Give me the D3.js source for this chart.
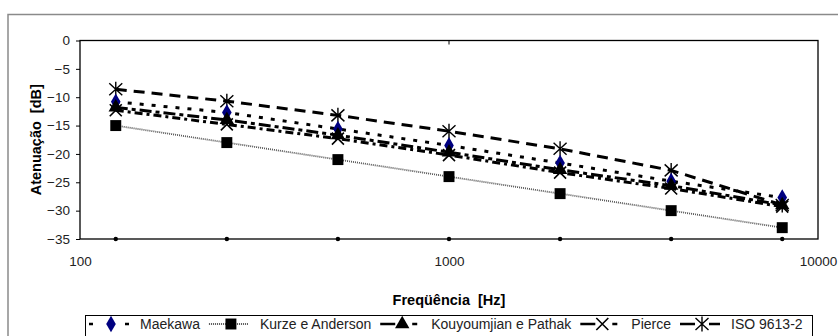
<!DOCTYPE html>
<html>
<head>
<meta charset="utf-8">
<script src="https://cdn.jsdelivr.net/npm/d3@7"></script>
<style>
  body { margin: 0; background: #fff; }
  text { font-family: "Liberation Sans", Arial, sans-serif; }
</style>
</head>
<body>
<svg id="chart"></svg>
<script>
// frequencies (Hz) and attenuation (dB)
const freqs = [125, 250, 500, 1000, 2000, 4000, 8000];
const maekawa = [-10.8, -12.7, -15.6, -18.5, -21.6, -24.8, -27.7];
const kurze = [-15, -18, -21, -24, -27, -30, -33];
const kouyoumjian = [-11.8, -14.0, -16.7, -19.7, -22.8, -25.6, -29.0];
const pierce = [-12.3, -14.8, -17.3, -20.2, -23.3, -26.1, -29.3];
const iso = [-8.6, -10.7, -13.2, -16.0, -19.1, -22.9, -29.0];
const baseline = [-35, -35, -35, -35, -35, -35, -35];
const yTicks = [0, -5, -10, -15, -20, -25, -30, -35];
const xTicks = [100, 1000, 10000];
const seriesNames = ['Maekawa', 'Kurze e Anderson', 'Kouyoumjian e Pathak', 'Pierce', 'ISO 9613-2'];

const W = 838, H = 336;
const m = { left: 80, right: 20, top: 40.5, bottom: 97 };

const svg = d3.select('#chart')
	.attr('width', W)
	.attr('height', H);

const x = d3.scaleLog()
	.domain([100, 10000])
	.range([m.left, W - m.right]);
const y = d3.scaleLinear()
	.domain([-35, 0])
	.range([H - m.bottom, m.top]);

// outer chart area frame
svg.append('rect')
	.attr('x', 8).attr('y', 14.5)
	.attr('width', W).attr('height', H)
	.attr('fill', 'none').attr('stroke', '#8a8a8a').attr('stroke-width', 1.5);

// plot frame
svg.append('rect')
	.attr('x', m.left).attr('y', m.top)
	.attr('width', W - m.right - m.left).attr('height', H - m.bottom - m.top)
	.attr('fill', 'none').attr('stroke', '#000').attr('stroke-width', 1.3);

// y axis
const yAxis = svg.append('g')
	.attr('transform', 'translate(' + m.left + ',0)')
	.call(d3.axisLeft(y).tickValues(yTicks).tickSize(4).tickPadding(6).tickFormat(d3.format('d')));
yAxis.select('.domain').remove();
yAxis.selectAll('text').attr('font-size', 13.5).attr('fill', '#222');

// x axis labels (no tick marks at bottom)
const xAxis = svg.append('g')
	.attr('transform', 'translate(0,' + (H - m.bottom) + ')')
	.call(d3.axisBottom(x).tickValues(xTicks).tickSize(0).tickPadding(17).tickFormat(d3.format('d')));
xAxis.select('.domain').remove();
xAxis.selectAll('text').attr('font-size', 13.5).attr('fill', '#222');

// small tick at top for 1000
svg.append('line')
	.attr('x1', x(1000)).attr('x2', x(1000))
	.attr('y1', m.top).attr('y2', m.top + 4)
	.attr('stroke', '#000').attr('stroke-width', 1);

// axis titles
svg.append('text')
	.attr('x', x(1000)).attr('y', 305)
	.attr('text-anchor', 'middle')
	.attr('font-size', 14.5).attr('font-weight', 'bold')
	.attr('xml:space', 'preserve')
	.text('Freqüência  [Hz]');
svg.append('text')
	.attr('transform', 'translate(41,' + ((m.top + H - m.bottom) / 2) + ') rotate(-90)')
	.attr('text-anchor', 'middle')
	.attr('font-size', 14.5).attr('font-weight', 'bold')
	.attr('xml:space', 'preserve')
	.text('Atenuação  [dB]');

// marker drawing
function marker(g, kind) {
	if (kind === 'diamond') {
		g.append('path').attr('d', d3.symbol(d3.symbolDiamond, 80)()).attr('fill', '#000080');
	} else if (kind === 'square') {
		g.append('path').attr('d', d3.symbol(d3.symbolSquare, 120)()).attr('fill', '#000');
	} else if (kind === 'triangle') {
		g.append('path').attr('d', d3.symbol(d3.symbolTriangle, 90)()).attr('fill', '#000');
	} else if (kind === 'x') {
		g.append('path').attr('d', 'M-6,-6L6,6M-6,6L6,-6').attr('stroke', '#000').attr('stroke-width', 1.6);
	} else if (kind === 'star') {
		g.append('path').attr('d', 'M-6.5,-6L6.5,6M-6.5,6L6.5,-6M0,-7.5L0,7.5').attr('stroke', '#000').attr('stroke-width', 1.4);
	} else if (kind === 'dot') {
		g.append('circle').attr('r', 2.2).attr('fill', '#000');
	}
}

const series = [
	{ name: seriesNames[1], values: kurze, stroke: '#555', width: 1.8, dash: '1,1', marker: 'square',
		legendDash: '1,1' },
	{ name: seriesNames[4], values: iso, stroke: '#000', width: 3, dash: '11,7', marker: 'star',
		legendDash: '15,14,15' },
	{ name: seriesNames[0], values: maekawa, stroke: '#000', width: 3, dash: '4,8', marker: 'diamond',
		legendDash: '4,32,4' },
	{ name: seriesNames[2], values: kouyoumjian, stroke: '#000', width: 3, dash: '12,4,4,4', marker: 'triangle',
		legendDash: '15,17,5' },
	{ name: seriesNames[3], values: pierce, stroke: '#000', width: 3, dash: '8,4,3,4', marker: 'x',
		legendDash: '15,17,5' }
];

const line = d3.line()
	.x((d, i) => x(freqs[i]))
	.y(d => y(d));

series.forEach(s => {
	svg.append('path')
		.datum(s.values)
		.attr('d', line)
		.attr('fill', 'none')
		.attr('stroke', s.stroke)
		.attr('stroke-width', s.width)
		.attr('stroke-dasharray', s.dash);
});
series.forEach(s => {
	svg.selectAll(null)
		.data(s.values)
		.enter()
		.append('g')
		.attr('transform', (d, i) => 'translate(' + x(freqs[i]) + ',' + y(d) + ')')
		.each(function () { marker(d3.select(this), s.marker); });
});
svg.selectAll(null)
	.data(baseline)
	.enter()
	.append('g')
	.attr('transform', (d, i) => 'translate(' + x(freqs[i]) + ',' + y(d) + ')')
	.each(function () { marker(d3.select(this), 'dot'); });

// legend
const legendOrder = [series[2], series[0], series[3], series[4], series[1]];
const legend = svg.append('g');
legend.append('rect')
	.attr('x', 85.5).attr('y', 315.5)
	.attr('width', 727).attr('height', 30)
	.attr('fill', '#fff').attr('stroke', '#000').attr('stroke-width', 1);
let lx = 89;
const ly = 324;
legendOrder.forEach(s => {
	legend.append('line')
		.attr('x1', lx).attr('x2', lx + 40)
		.attr('y1', ly).attr('y2', ly)
		.attr('stroke', s.stroke).attr('stroke-width', s.marker === 'square' ? 1.8 : 2.6)
		.attr('stroke-dasharray', s.legendDash);
	const mg = legend.append('g').attr('transform', 'translate(' + (lx + 22) + ',' + ly + ')');
	marker(mg, s.marker);
	const t = legend.append('text')
		.attr('x', lx + 51).attr('y', ly + 5)
		.attr('font-size', 14).attr('fill', '#222')
		.text(s.name);
	lx = lx + 51 + t.node().getComputedTextLength() + 9;
});
</script>
</body>
</html>
